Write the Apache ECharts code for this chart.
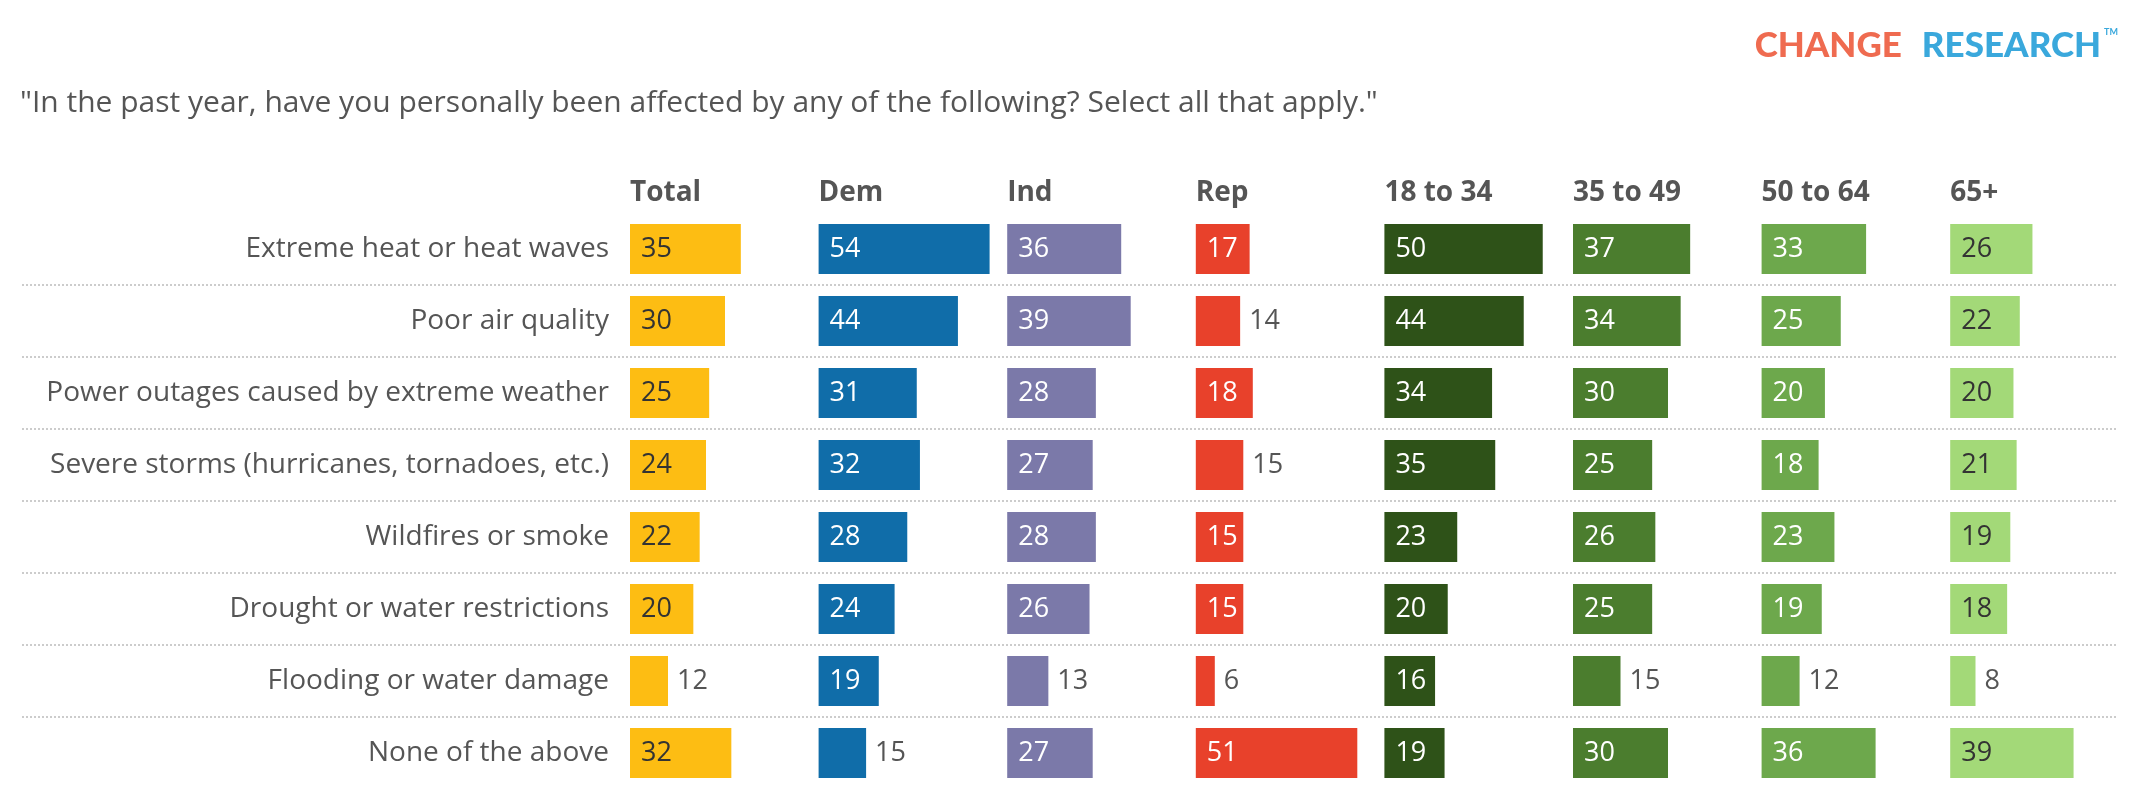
<!DOCTYPE html>
<html>
<head>
<meta charset="utf-8">
<script src="https://cdn.jsdelivr.net/npm/echarts@6/dist/echarts.min.js"></script>
<style>
html,body{margin:0;padding:0;background:#fff;}
#chart{width:2140px;height:798px;}
</style>
</head>
<body>
<div id="chart"></div>
<script>
// ---------- data ----------
const categories = [
  'Extreme heat or heat waves',
  'Poor air quality',
  'Power outages caused by extreme weather',
  'Severe storms (hurricanes, tornadoes, etc.)',
  'Wildfires or smoke',
  'Drought or water restrictions',
  'Flooding or water damage',
  'None of the above'
];
const groups = ['Total', 'Dem', 'Ind', 'Rep', '18 to 34', '35 to 49', '50 to 64', '65+'];
const totalValues = [35, 30, 25, 24, 22, 20, 12, 32];
const demValues   = [54, 44, 31, 32, 28, 24, 19, 15];
const indValues   = [36, 39, 28, 27, 28, 26, 13, 27];
const repValues   = [17, 14, 18, 15, 15, 15, 6, 51];
const age1834     = [50, 44, 34, 35, 23, 20, 16, 19];
const age3549     = [37, 34, 30, 25, 26, 25, 15, 30];
const age5064     = [33, 25, 20, 18, 23, 19, 12, 36];
const age65plus   = [26, 22, 20, 21, 19, 18, 8, 39];
const questionText = '"In the past year, have you personally been affected by any of the following? Select all that apply."';

// ---------- styling / layout ----------
const seriesValues = [totalValues, demValues, indValues, repValues, age1834, age3549, age5064, age65plus];
const colors = ['#FDBD13', '#106DA9', '#7B79A9', '#E8412B', '#2E5218', '#4B7D2E', '#6DA84C', '#A3D978'];
const insideLabelColors = ['#333333', '#ffffff', '#ffffff', '#ffffff', '#ffffff', '#ffffff', '#ffffff', '#333333'];
// Small bars get their label outside; a few 15s in the source were drawn inside
const insideExceptions = { 3: [4, 5] };
const FONT = '"Open Sans", Lato, sans-serif';
const colLeft0 = 630, colStep = 188.6, colWidth = 190, axisMax = 60;
const gridTop = 213, rowH = 72;
const gridH = rowH * categories.length;

const grids = [], xAxes = [], yAxes = [], series = [];
const titles = [
  { text: questionText, left: 20, top: 88, padding: 0,
    textStyle: { fontFamily: FONT, fontSize: 30, fontWeight: 'normal', color: '#555' } },
  { text: '{a|CHANGE}{b|RESEARCH}{tm|TM}', right: 22, top: 28, padding: 0,
    textStyle: { rich: {
      a: { fontFamily: 'Lato', fontWeight: 900, fontSize: 35, color: '#EF6B50' },
      b: { fontFamily: 'Lato', fontWeight: 900, fontSize: 35, color: '#3AA8DC', padding: [0, 0, 0, 20] },
      tm: { fontFamily: 'Lato', fontSize: 9, color: '#3AA8DC', verticalAlign: 'top', padding: [0, 0, 20, 3] }
    } } }
];

groups.forEach((g, i) => {
  const left = colLeft0 + i * colStep;
  grids.push({ left: left, top: gridTop, width: colWidth, height: gridH, containLabel: false });
  xAxes.push({ type: 'value', gridIndex: i, min: 0, max: axisMax, show: false });
  yAxes.push({
    type: 'category', gridIndex: i, data: categories, inverse: true,
    axisLine: { show: false }, axisTick: { show: false }, splitLine: { show: false },
    axisLabel: i === 0 ? { show: true, margin: 21, fontFamily: FONT, fontSize: 28, color: '#555' } : { show: false }
  });
  titles.push({ text: g, left: left, top: 179, padding: 0,
    textStyle: { fontFamily: FONT, fontSize: 28, fontWeight: 'bold', color: '#555' } });
  const exc = insideExceptions[i] || [];
  series.push({
    type: 'bar', xAxisIndex: i, yAxisIndex: i, barWidth: 50,
    itemStyle: { color: colors[i] },
    data: seriesValues[i].map((v, k) => {
      const inside = v >= 16 || exc.indexOf(k) >= 0;
      return {
        value: v,
        label: inside
          ? { show: true, position: 'insideLeft', distance: 11, color: insideLabelColors[i] }
          : { show: true, position: 'right', distance: 9, color: '#555' }
      };
    }),
    label: { show: true, fontFamily: FONT, fontSize: 27 },
    silent: true, animation: false
  });
});

// separator grid spanning the full width, lines drawn at row boundaries through its value axis
const sepIdx = groups.length;
grids.push({ left: 22, right: 22, top: gridTop, height: gridH });
xAxes.push({ type: 'value', gridIndex: sepIdx, min: 0, max: 1, show: false });
yAxes.push({ type: 'value', gridIndex: sepIdx, min: 0, max: categories.length, inverse: true, show: false });
series.push({
  type: 'line', xAxisIndex: sepIdx, yAxisIndex: sepIdx, data: [], silent: true, animation: false,
  markLine: {
    silent: true, symbol: ['none', 'none'], label: { show: false }, animation: false,
    lineStyle: { type: 'dotted', color: '#cccccc', width: 2 },
    data: categories.slice(1).map((c, k) => ({ yAxis: k + 1 }))
  }
});

const chart = echarts.init(document.getElementById('chart'), null, { renderer: 'canvas' });
chart.setOption({
  backgroundColor: '#ffffff',
  animation: false,
  title: titles,
  grid: grids,
  xAxis: xAxes,
  yAxis: yAxes,
  series: series
});
</script>
</body>
</html>
